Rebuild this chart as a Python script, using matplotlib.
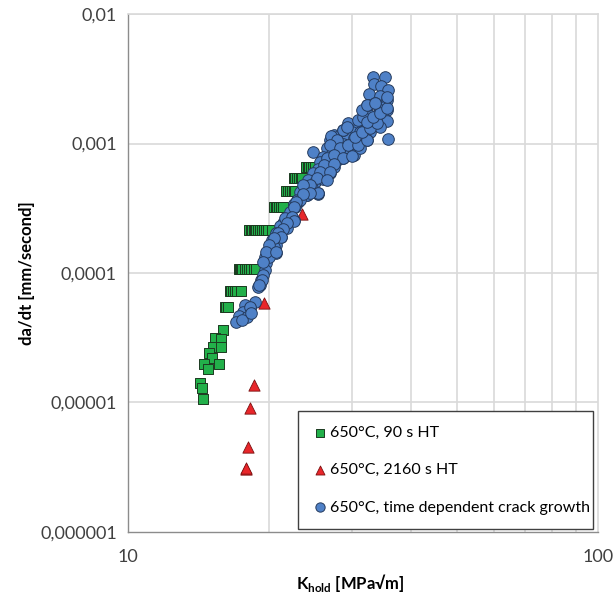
import numpy as np
import matplotlib
matplotlib.use("Agg")
import matplotlib.pyplot as plt
from matplotlib.ticker import FixedLocator, NullLocator, FixedFormatter

plt.rcParams['font.family'] = ['Lato', 'DejaVu Sans']
plt.rcParams['mathtext.fontset'] = 'custom'
plt.rcParams['mathtext.rm'] = 'Lato'
plt.rcParams['mathtext.bf'] = 'Lato:bold'

# 650°C, 90 s hold time (stepped bands of squares)
k_90 = [23.9, 24.1, 24.3, 24.5, 24.7, 25.0,
        22.5, 22.7, 22.9, 23.1, 23.3, 23.5,
        21.7, 21.9, 22.1, 22.3, 22.5, 22.7,
        20.4, 20.6, 20.8, 21.0, 21.2, 21.4,
        18.1, 18.3, 18.4, 18.5, 18.6, 18.7, 18.9, 19.1, 19.3, 19.5, 19.7, 19.9, 20.2,
        17.2, 17.3, 17.4, 17.5, 17.7, 17.9, 18.1, 18.3, 18.5, 18.7,
        16.5, 16.6, 16.7, 16.9, 17.1, 17.4,
        16.1, 16.2, 16.3,
        15.95, 15.3, 15.8, 15.18, 15.75, 14.9, 15.06, 14.5, 15.64, 14.8, 14.22, 14.35, 14.46,
        30.2]
da_90 = [6.6e-4] * 6 + [5.4e-4] * 6 + [4.3e-4] * 6 + [3.25e-4] * 6 + \
        [2.15e-4] * 13 + [1.07e-4] * 10 + [7.3e-5] * 6 + [5.46e-5] * 3 + \
        [3.63e-5, 3.13e-5, 3.1e-5, 2.7e-5, 2.7e-5, 2.4e-5, 2.19e-5, 1.98e-5, 1.98e-5,
         1.8e-5, 1.42e-5, 1.3e-5, 1.06e-5, 1.4e-3]

# 650°C, 2160 s hold time
k_2160 = [23.4, 19.5, 18.5, 18.2, 18.0, 17.8, 17.85, 30.4]
da_2160 = [2.87e-4, 5.9e-5, 1.36e-5, 9.1e-6, 4.56e-6, 3.05e-6, 3.1e-6, 1.39e-3]

# 650°C, time dependent crack growth
k_tdcg = [33.2, 35.2, 33.3, 34.5, 35.8, 32.6, 34.3, 35.5, 35.0, 32.2, 33.5, 34.4, 35.5,
          32.5, 33.8, 34.9, 33.0, 31.7, 34.4, 35.5, 30.7, 32.2, 33.5, 29.2, 29.9, 31.2,
          32.7, 34.4, 27.4, 28.3, 29.2, 30.2, 31.4, 32.2, 35.8, 26.9, 27.8, 28.7, 29.7,
          30.7, 24.8, 26.5, 27.4, 28.3, 29.4, 30.2, 31.2, 26.0, 27.1, 27.8, 28.7, 25.6,
          26.5, 27.4, 25.4, 26.0, 26.9, 24.8, 25.6, 24.2, 25.0, 26.0, 23.8, 24.6, 25.4,
          23.2, 24.0, 22.9, 23.0, 22.7, 22.1, 22.5, 21.4, 21.1, 21.8, 20.7, 21.2,
          20.2, 20.7, 19.9, 20.7, 19.6, 19.7, 19.6, 19.2, 19.1, 18.9, 18.6, 17.7, 18.2,
          17.6, 17.2, 17.9, 17.0, 17.5,
          28.7, 29.4, 30.9, 31.7, 31.4, 32.4, 22.6, 22.1, 21.6, 20.4, 20.0, 19.4, 18.2, 18.3,
          27.1, 27.8, 28.7, 29.2, 26.9, 28.2, 29.4, 30.9, 32.2, 30.4, 31.4, 32.7, 33.8,
          32.2, 33.2, 34.4, 35.5, 32.2, 33.5, 35.5, 26.5, 27.4, 28.7, 29.9, 26.1, 27.4,
          25.6, 26.9, 25.2, 26.5, 24.4, 25.4, 24.0, 23.2, 23.6,
          25.4, 24.4, 23.6, 22.8, 22.6, 22.3, 22.5, 21.8, 21.4, 20.9, 21.2, 20.4, 20.0,
          19.7, 20.7, 19.4, 19.3, 19.0]
da_tdcg = [3.24e-3, 3.24e-3, 2.88e-3, 2.78e-3, 2.59e-3, 2.41e-3, 2.33e-3, 2.17e-3, 1.92e-3,
           1.98e-3, 2.04e-3, 1.81e-3, 1.83e-3, 1.66e-3, 1.66e-3, 1.61e-3, 1.52e-3, 1.43e-3,
           1.48e-3, 1.48e-3, 1.35e-3, 1.35e-3, 1.39e-3, 1.31e-3, 1.23e-3, 1.23e-3, 1.23e-3,
           1.35e-3, 1.16e-3, 1.16e-3, 1.13e-3, 1.10e-3, 1.13e-3, 1.06e-3, 1.08e-3, 1.06e-3,
           1.03e-3, 1.0e-3, 9.7e-4, 9.4e-4, 8.6e-4, 9.2e-4, 8.9e-4, 8.6e-4, 8.9e-4, 8.15e-4,
           9.3e-4, 7.9e-4, 8.15e-4, 7.45e-4, 7.7e-4, 7.2e-4, 7.0e-4, 6.6e-4, 6.4e-4, 6.06e-4,
           5.9e-4, 5.9e-4, 5.54e-4, 5.2e-4, 5.07e-4, 5.35e-4, 4.64e-4, 4.5e-4, 4.1e-4, 4.25e-4,
           4.0e-4, 3.66e-4, 3.56e-4, 3.25e-4, 2.72e-4, 2.56e-4, 2.42e-4, 2.3e-4,
           2.21e-4, 2.02e-4, 1.91e-4, 1.80e-4, 1.64e-4, 1.46e-4, 1.42e-4, 1.34e-4, 1.19e-4,
           1.05e-4, 8.8e-5, 8.1e-5, 7.8e-5, 6.0e-5, 5.66e-5, 5.33e-5, 5.02e-5, 4.65e-5,
           4.6e-5, 4.21e-5, 4.34e-5,
           1.27e-3, 1.43e-3, 1.52e-3, 1.61e-3, 1.81e-3, 1.98e-3, 3.4e-4, 2.95e-4, 2.65e-4,
           1.6e-4, 1.34e-4, 9.6e-5, 5.5e-5, 4.9e-5,
           1.15e-3, 1.06e-3, 1.27e-3, 1.35e-3, 9.7e-4, 9.2e-4, 9.7e-4, 9.7e-4, 1.06e-3,
           1.13e-3, 1.23e-3, 1.31e-3, 1.43e-3, 1.47e-3, 1.61e-3, 1.71e-3, 1.87e-3, 1.98e-3,
           2.04e-3, 2.3e-3, 7.7e-4, 8.15e-4, 7.7e-4, 8.05e-4, 6.8e-4, 7.0e-4, 6.06e-4,
           6.06e-4, 5.38e-4, 5.2e-4, 4.8e-4, 4.12e-4, 4.0e-4, 3.66e-4, 4.8e-4,
           4.12e-4, 4.12e-4, 4.1e-4, 3.56e-4, 3.25e-4, 2.72e-4, 2.5e-4, 2.43e-4, 2.2e-4,
           2.02e-4, 1.9e-4, 1.85e-4, 1.64e-4, 1.46e-4, 1.46e-4, 1.22e-4, 8.8e-5, 8.1e-5]

y_ticks = [1e-6, 1e-5, 1e-4, 1e-3, 1e-2]
y_tick_labels = ['0,000001', '0,00001', '0,0001', '0,001', '0,01']
x_ticks = [10, 100]
x_tick_labels = ['10', '100']
x_grid = [20, 30, 40, 50, 60, 70, 80, 90]

fig = plt.figure(figsize=(6.13, 5.94), dpi=100)
ax = fig.add_axes([0.2088, 0.1044, 0.7667, 0.872])

ax.scatter(k_90, da_90, marker='s', s=55, c='#22b04a', edgecolors='#1c3a20',
           linewidths=0.7, zorder=3, label='650°C, 90 s HT')
ax.scatter(k_2160, da_2160, marker='^', s=66, c='#e8262a', edgecolors='#7a1010',
           linewidths=0.6, zorder=4, label='650°C, 2160 s HT')
ax.scatter(k_tdcg, da_tdcg, marker='o', s=70, c='#4f81c7', edgecolors='#253b5e',
           linewidths=0.7, zorder=5, label='650°C, time dependent crack growth')

ax.set_xscale('log')
ax.set_yscale('log')
ax.set_xlim(10, 100)
ax.set_ylim(1e-6, 1e-2)

ax.xaxis.set_major_locator(FixedLocator(x_ticks))
ax.xaxis.set_major_formatter(FixedFormatter(x_tick_labels))
ax.xaxis.set_minor_locator(NullLocator())
ax.yaxis.set_major_locator(FixedLocator(y_ticks))
ax.yaxis.set_major_formatter(FixedFormatter(y_tick_labels))
ax.yaxis.set_minor_locator(NullLocator())
ax.tick_params(axis='both', length=0, labelsize=13, colors='#404040')
ax.tick_params(axis='y', pad=8)
ax.tick_params(axis='x', pad=12)

for gx in x_grid:
    ax.axvline(gx, color='#d9d9d9', lw=1.2, zorder=1)
for gy in y_ticks[1:]:
    ax.axhline(gy, color='#d9d9d9', lw=1.2, zorder=1)

for side in ['top', 'right']:
    ax.spines[side].set_color('#d9d9d9')
    ax.spines[side].set_linewidth(1.2)
for side in ['left', 'bottom']:
    ax.spines[side].set_color('#8c8c8c')
    ax.spines[side].set_linewidth(1.0)

ax.set_ylabel('da/dt [mm/second]', fontsize=12, fontweight='bold', labelpad=4)
fig.text(0.572, 0.0, r'$\mathbf{K}_{\mathbf{hold}}$ [MPa√m]', fontsize=12,
         fontweight='bold', ha='center', va='bottom')

leg = ax.legend(loc='lower left', bbox_to_anchor=(0.362, 0.006, 0.627, 0.226),
                mode='expand', borderaxespad=0, fontsize=11.5, labelspacing=1.45,
                handletextpad=0.1, handlelength=1.0, markerscale=0.8,
                fancybox=False, edgecolor='#404040', framealpha=1, borderpad=0.9)
leg.get_frame().set_linewidth(1.0)
leg.set_zorder(10)

fig.savefig('out.png', dpi=100)
